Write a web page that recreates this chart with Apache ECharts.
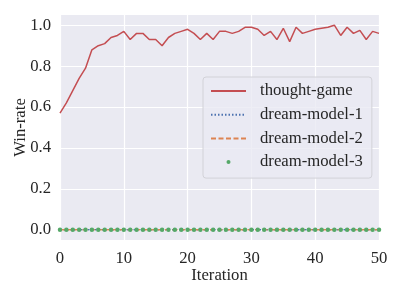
<!DOCTYPE html>
<html>
<head>
<meta charset="utf-8">
<script src="https://cdn.jsdelivr.net/npm/echarts@6/dist/echarts.min.js"></script>
<style>html,body{margin:0;padding:0;background:#fff}#c{width:394px;height:296px}</style>
</head>
<body>
<div id="c"></div>
<script>
const iterations = [0,1,2,3,4,5,6,7,8,9,10,11,12,13,14,15,16,17,18,19,20,21,22,23,24,25,26,27,28,29,30,31,32,33,34,35,36,37,38,39,40,41,42,43,44,45,46,47,48,49,50];
const thoughtGame = [0.57,0.62,0.68,0.74,0.79,0.88,0.90,0.91,0.94,0.95,0.97,0.93,0.96,0.96,0.93,0.93,0.90,0.94,0.96,0.97,0.98,0.96,0.93,0.96,0.93,0.97,0.97,0.96,0.97,0.99,0.99,0.98,0.95,0.97,0.93,0.985,0.92,0.99,0.96,0.97,0.98,0.985,0.99,1.0,0.95,0.99,0.96,0.975,0.93,0.97,0.96];
const dreamModel1 = [0,0,0,0,0,0,0,0,0,0,0,0,0,0,0,0,0,0,0,0,0,0,0,0,0,0,0,0,0,0,0,0,0,0,0,0,0,0,0,0,0,0,0,0,0,0,0,0,0,0,0];
const dreamModel2 = [0,0,0,0,0,0,0,0,0,0,0,0,0,0,0,0,0,0,0,0,0,0,0,0,0,0,0,0,0,0,0,0,0,0,0,0,0,0,0,0,0,0,0,0,0,0,0,0,0,0,0];
const dreamModel3 = [0,0,0,0,0,0,0,0,0,0,0,0,0,0,0,0,0,0,0,0,0,0,0,0,0,0,0,0,0,0,0,0,0,0,0,0,0,0,0,0,0,0,0,0,0,0,0,0,0,0,0];
const yTicks = [0, 0.2, 0.4, 0.6, 0.8, 1.0];
const xTicks = [0, 10, 20, 30, 40, 50];
const seriesNames = ['thought-game','dream-model-1','dream-model-2','dream-model-3'];

const pairs = arr => iterations.map((x, i) => [x, arr[i]]);
const FONT = 'Liberation Serif';
const TXT = '#262626';
const FS = 16.7;

const chart = echarts.init(document.getElementById('c'), null, {renderer: 'canvas'});
chart.setOption({
  animation: false,
  textStyle: {fontFamily: FONT},
  grid: {left: 60, right: 15, top: 15, bottom: 56, show: true, backgroundColor: '#EAEAF2', borderWidth: 0,
         containLabel: false, outerBoundsMode: 'none'},
  xAxis: {
    type: 'value', min: 0, max: 50, interval: 10,
    name: 'Iteration', nameLocation: 'middle', nameGap: 27, nameMoveOverlap: false,
    nameTextStyle: {fontFamily: FONT, fontSize: FS, color: TXT},
    axisLine: {show: false}, axisTick: {show: false},
    axisLabel: {fontFamily: FONT, fontSize: FS, color: TXT, margin: 10},
    splitLine: {show: true, lineStyle: {color: '#ffffff', width: 1.2}}
  },
  yAxis: {
    type: 'value', min: -0.05, max: 1.05,
    name: 'Win-rate', nameLocation: 'middle', nameGap: 31, nameMoveOverlap: false,
    nameTextStyle: {fontFamily: FONT, fontSize: FS, color: TXT},
    axisLine: {show: false},
    axisTick: {show: false, customValues: yTicks},
    axisLabel: {fontFamily: FONT, fontSize: FS, color: TXT, margin: 9, customValues: yTicks,
      formatter: v => v.toFixed(1)},
    splitLine: {show: true, lineStyle: {color: '#ffffff', width: 1.2}}
  },
  legend: {
    data: [
      {name: seriesNames[0], itemStyle: {opacity: 0}},
      {name: seriesNames[1], itemStyle: {opacity: 0}},
      {name: seriesNames[2], itemStyle: {opacity: 0}},
      {name: seriesNames[3]}
    ],
    orient: 'vertical', left: 203, top: 77,
    itemWidth: 35, itemHeight: 5, itemGap: 3.7,
    padding: [4, 9, 6, 7],
    backgroundColor: 'rgba(234,234,242,0.8)',
    borderColor: '#d2d2d8', borderWidth: 1, borderRadius: 3,
    textStyle: {fontFamily: FONT, fontSize: FS, color: TXT, lineHeight: 20, padding: [0, 0, 0, 9]}
  },
  series: [
    {name: seriesNames[0], type: 'line', data: pairs(thoughtGame), symbol: 'none',
     lineStyle: {color: '#C44E52', width: 1.5}, itemStyle: {color: '#C44E52'}, z: 5},
    {name: seriesNames[1], type: 'line', data: pairs(dreamModel1), symbol: 'none',
     lineStyle: {color: '#4C72B0', width: 1.5, type: [1.5, 2]}, itemStyle: {color: '#4C72B0'}, z: 2},
    {name: seriesNames[2], type: 'line', data: pairs(dreamModel2), symbol: 'none',
     lineStyle: {color: '#DD8452', width: 1.5, type: [5, 2.5]}, itemStyle: {color: '#DD8452'}, z: 3},
    {name: seriesNames[3], type: 'line', data: pairs(dreamModel3), symbol: 'circle', symbolSize: 4.5,
     showSymbol: true, showAllSymbol: true,
     lineStyle: {width: 0, opacity: 0}, itemStyle: {color: '#55A868', borderWidth: 0}, z: 4}
  ]
});
</script>
</body>
</html>
